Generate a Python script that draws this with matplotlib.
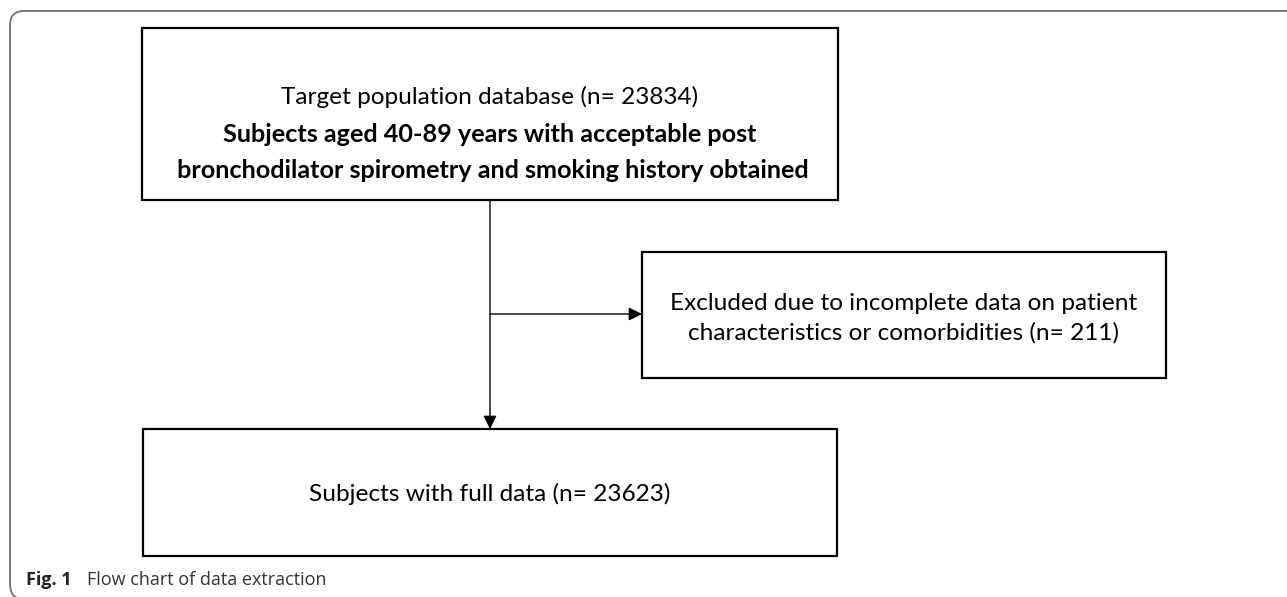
import matplotlib
matplotlib.use("Agg")
import matplotlib.pyplot as plt
from matplotlib.patches import Rectangle, PathPatch
from matplotlib.path import Path

# ---- content ----
top_title = "Target population database"
top_n = 23834
top_desc = ["Subjects aged 40-89 years with acceptable post",
            " bronchodilator spirometry and smoking history obtained"]
excl_lines = ["Excluded due to incomplete data on patient",
              "characteristics or comorbidities"]
excl_n = 211
final_label = "Subjects with full data"
final_n = 23623
caption_bold = "Fig. 1"
caption_text = "Flow chart of data extraction"

W, H = 1287, 597
fig = plt.figure(figsize=(W / 100, H / 100), dpi=100)
ax = fig.add_axes([0, 0, 1, 1])
ax.set_xlim(0, W)
ax.set_ylim(H, 0)
ax.axis("off")

box_font = "Lato"
cap_font = "Open Sans"
fs = 17.6
fs_b = 18.2

# rounded frame (top + left)
r = 14
verts = [(W, 11), (10 + r, 11), (10, 11), (10, 11 + r), (10, H - r), (10, H), (10 + r * 0.6, H + 1)]
codes = [Path.MOVETO, Path.LINETO, Path.CURVE3, Path.CURVE3, Path.LINETO, Path.CURVE3, Path.CURVE3]
ax.add_patch(PathPatch(Path(verts, codes), fill=False, ec="#707070", lw=1.3, clip_on=False))

def box(x0, y0, x1, y1):
    ax.add_patch(Rectangle((x0, y0), x1 - x0, y1 - y0, fill=False, ec="black", lw=1.6))

# boxes
box(142, 28, 838, 200)
box(642, 252, 1166, 378)
box(143, 429, 837, 556)

# top text
ax.text(490, 97, f"{top_title} (n= {top_n})", ha="center", va="center",
        fontsize=fs, family=box_font)
ax.text(490, 135, top_desc[0], ha="center", va="center", fontsize=fs_b,
        family=box_font, fontweight="bold")
ax.text(490, 170, top_desc[1], ha="center", va="center", fontsize=fs_b,
        family=box_font, fontweight="bold")

# excluded text
ax.text(904, 303, excl_lines[0], ha="center", va="center", fontsize=fs, family=box_font)
ax.text(904, 333, f"{excl_lines[1]} (n= {excl_n})", ha="center", va="center",
        fontsize=fs, family=box_font)

# final text
ax.text(490, 494, f"{final_label} (n= {final_n})", ha="center", va="center",
        fontsize=fs, family=box_font)

# connectors
ax.annotate("", xy=(490, 429), xytext=(490, 200),
            arrowprops=dict(arrowstyle="-|>", color="black", lw=1.0,
                            mutation_scale=20, shrinkA=0, shrinkB=0))
ax.annotate("", xy=(642, 314), xytext=(490, 314),
            arrowprops=dict(arrowstyle="-|>", color="black", lw=1.0,
                            mutation_scale=20, shrinkA=0, shrinkB=0))

# caption
ax.text(26, 580, caption_bold, ha="left", va="center", fontsize=13,
        family=cap_font, fontweight="bold", color="#222222")
ax.text(87, 580, caption_text, ha="left", va="center", fontsize=13,
        family=cap_font, color="#333333")

fig.savefig("out.png", dpi=100)
